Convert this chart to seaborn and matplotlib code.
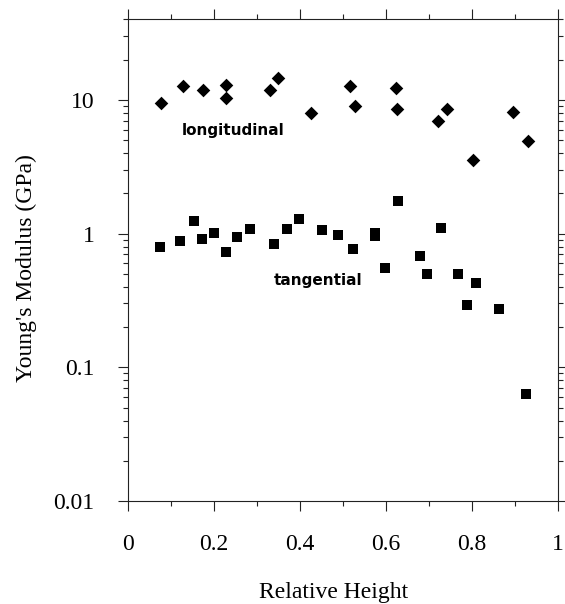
#!/usr/bin/env python3
"""Young's modulus vs relative height (log scale), longitudinal and tangential."""
import matplotlib
matplotlib.use("Agg")
import matplotlib.pyplot as plt
import matplotlib.ticker as mticker
import pandas as pd
import seaborn as sns

# values
height_long = [0.077, 0.129, 0.174, 0.229, 0.229, 0.330, 0.350, 0.426, 0.516,
               0.527, 0.623, 0.626, 0.722, 0.742, 0.802, 0.896, 0.931]
modulus_long = [9.4, 12.6, 11.9, 12.9, 10.3, 11.9, 14.5, 8.0, 12.7,
                9.0, 12.2, 8.5, 6.9, 8.5, 3.57, 8.1, 4.9]

height_tan = [0.075, 0.120, 0.154, 0.173, 0.200, 0.227, 0.253, 0.284, 0.339,
              0.371, 0.397, 0.452, 0.488, 0.523, 0.575, 0.575, 0.598, 0.628,
              0.679, 0.696, 0.728, 0.768, 0.789, 0.809, 0.862, 0.926]
modulus_tan = [0.79, 0.875, 1.24, 0.905, 1.01, 0.73, 0.95, 1.09, 0.84,
               1.08, 1.29, 1.06, 0.98, 0.77, 1.01, 0.96, 0.556, 1.76,
               0.68, 0.495, 1.11, 0.50, 0.292, 0.424, 0.272, 0.063]

y_ticks = [0.01, 0.1, 1, 10]
y_tick_labels = ["0.01", "0.1", "1", "10"]

sns.set_style("ticks")
plt.rcParams["font.family"] = ["Liberation Serif", "DejaVu Serif"]
plt.rcParams["font.size"] = 17
plt.rcParams["text.color"] = "black"
plt.rcParams["axes.labelcolor"] = "black"
plt.rcParams["xtick.color"] = "black"
plt.rcParams["ytick.color"] = "black"

df_long = pd.DataFrame({"height": height_long, "modulus": modulus_long})
df_tan = pd.DataFrame({"height": height_tan, "modulus": modulus_tan})

fig = plt.figure(figsize=(5.65, 6.04), dpi=100)
ax = fig.add_axes([0.2265, 0.1705, 0.761, 0.7975])

sns.scatterplot(data=df_long, x="height", y="modulus", marker="D", s=48,
                color="black", linewidth=0, ax=ax, legend=False)
sns.scatterplot(data=df_tan, x="height", y="modulus", marker="s", s=58,
                color="black", linewidth=0, ax=ax, legend=False)

ax.set_yscale("log")
ax.set_xlim(0, 1)
ax.set_ylim(0.01, 40)

ax.xaxis.set_major_locator(mticker.MultipleLocator(0.2))
ax.xaxis.set_minor_locator(mticker.MultipleLocator(0.1))
ax.xaxis.set_major_formatter(mticker.FuncFormatter(lambda v, p: f"{v:g}"))
ax.yaxis.set_major_locator(mticker.FixedLocator(y_ticks))
ax.yaxis.set_major_formatter(mticker.FixedFormatter(y_tick_labels))
ax.yaxis.set_minor_locator(mticker.LogLocator(base=10, subs=range(2, 10)))
ax.yaxis.set_minor_formatter(mticker.NullFormatter())

ax.tick_params(which="both", direction="out", top=True, right=True,
               width=0.8, color="#222222", labelcolor="black")
ax.tick_params(which="major", length=7)
ax.tick_params(which="minor", length=3.5)
ax.tick_params(axis="y", which="major", pad=17, labelsize=17)
ax.tick_params(axis="x", which="major", pad=17, labelsize=17)
for sp in ax.spines.values():
    sp.set_linewidth(0.8)
    sp.set_color("#222222")

ax.set_xlabel("Relative Height", fontsize=17, color="black")
ax.set_ylabel("Young's Modulus (GPa)", fontsize=17, color="black")
ax.xaxis.set_label_coords(0.479, -0.168)
ax.yaxis.set_label_coords(-0.212, 0.483)

ax.text(0.244, 5.9, "longitudinal", ha="center", va="center", fontsize=11,
        fontweight="bold", family="DejaVu Sans", color="black")
ax.text(0.442, 0.447, "tangential", ha="center", va="center", fontsize=11,
        fontweight="bold", family="DejaVu Sans", color="black")

fig.savefig("out.png", dpi=100)
